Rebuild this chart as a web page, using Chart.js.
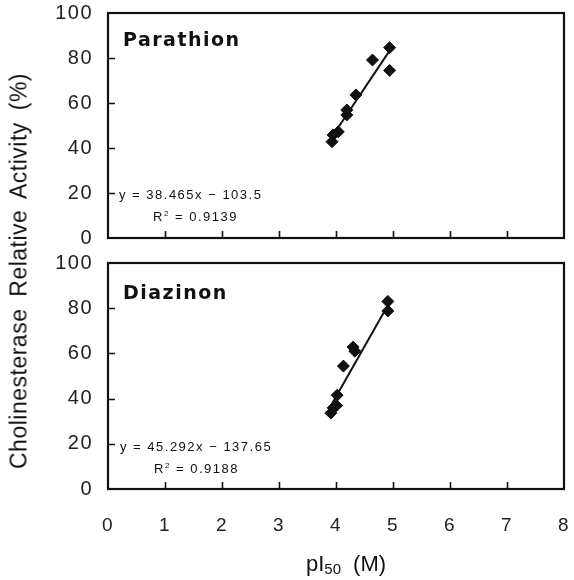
<!DOCTYPE html>
<html>
<head>
<meta charset="utf-8">
<script src="https://cdn.jsdelivr.net/npm/chart.js@4"></script>
<style>
  body { margin: 0; background: #fff; }
  #wrap { position: relative; width: 574px; height: 580px; font-family: "Liberation Sans", Arial, sans-serif; color: #111; }
  .panel { position: absolute; left: 0; }
  .lbl { position: absolute; white-space: nowrap; }
  .name { font-family: "DejaVu Sans", sans-serif; font-weight: bold; font-size: 19px; letter-spacing: 1.5px; }
  .eq { font-size: 13px; letter-spacing: 1.5px; }
  #ytitle { left: 19px; top: 271px; font-size: 23px; letter-spacing: 0.5px; transform: translate(-50%, -50%) rotate(-90deg); word-spacing: 5px; }
  #xtitle { left: 346px; top: 564px; font-size: 22px; transform: translate(-50%, -50%); word-spacing: 6px; }
  #xtitle sub { font-size: 15px; vertical-align: -3px; letter-spacing: 0; }
</style>
</head>
<body>
<div id="wrap">
  <canvas id="top" class="panel" style="top:0" width="574" height="250"></canvas>
  <canvas id="bottom" class="panel" style="top:250px" width="574" height="330"></canvas>

  <div class="lbl name" style="left:123px; top:28px">Parathion</div>
  <div class="lbl eq" style="left:119px; top:187px">y = 38.465x − 103.5</div>
  <div class="lbl eq" style="left:153px; top:209px">R<sup style="font-size:8px">2</sup> = 0.9139</div>

  <div class="lbl name" style="left:123px; top:281px">Diazinon</div>
  <div class="lbl eq" style="left:120px; top:439px">y = 45.292x − 137.65</div>
  <div class="lbl eq" style="left:154px; top:461px">R<sup style="font-size:8px">2</sup> = 0.9188</div>

  <div id="ytitle" class="lbl">Cholinesterase Relative Activity (%)</div>
  <div id="xtitle" class="lbl">pI<sub>50</sub> (M)</div>
</div>
<script>
// Parathion: pI50 vs relative activity
const parathionX = [3.93, 3.95, 4.04, 4.19, 4.19, 4.35, 4.64, 4.94, 4.94];
const parathionY = [42.8, 45.8, 47.2, 56.9, 54.7, 63.6, 79.1, 84.6, 74.5];
const parathionFitX = [3.93, 4.95];
const parathionFitY = [45.0, 83.6];

// Diazinon
const diazinonX = [3.91, 3.95, 4.01, 4.02, 4.13, 4.30, 4.33, 4.91, 4.91];
const diazinonY = [33.6, 35.9, 36.9, 41.5, 54.4, 62.8, 61.0, 83.0, 78.8];
const diazinonFitX = [3.92, 4.92];
const diazinonFitY = [37.3, 81.8];

const xTicks = [0, 1, 2, 3, 4, 5, 6, 7, 8];
const yTicks = [0, 20, 40, 60, 80, 100];

function toPoints(xs, ys) {
    return xs.map((x, i) => ({ x: x, y: ys[i] }));
}

// label overhang would shrink the plot area, so drop it
function noPad(s) {
    s.paddingLeft = 0; s.paddingRight = 0;
    s.paddingTop = 0; s.paddingBottom = 0;
}

// box frame and inward tick marks, plus the spaced-out tick font
const framePlugin = {
    id: 'frame',
    beforeDraw(chart) {
        chart.ctx.letterSpacing = '1.5px';
    },
    afterDraw(chart) {
        const ctx = chart.ctx;
        const a = chart.chartArea;
        const xs = chart.scales.x, ys = chart.scales.y;
        ctx.save();
        ctx.strokeStyle = '#111';
        ctx.lineWidth = 2.2;
        ctx.strokeRect(a.left, a.top, a.right - a.left, a.bottom - a.top);
        ctx.lineWidth = 1.6;
        ctx.beginPath();
        xTicks.slice(1, -1).forEach(v => {
            const px = Math.round(xs.getPixelForValue(v)) + 0.5;
            ctx.moveTo(px, a.bottom);
            ctx.lineTo(px, a.bottom - 7);
        });
        yTicks.slice(1, -1).forEach(v => {
            const py = Math.round(ys.getPixelForValue(v)) + 0.5;
            ctx.moveTo(a.left, py);
            ctx.lineTo(a.left + 7, py);
        });
        ctx.stroke();
        ctx.restore();
    }
};

function makePanel(id, xs, ys, fitX, fitY, showX, xAxisHeight) {
    const ctx = document.getElementById(id).getContext('2d');
    return new Chart(ctx, {
        type: 'scatter',
        data: {
            datasets: [{
                label: 'data',
                data: toPoints(xs, ys),
                pointStyle: 'rectRot',
                pointRadius: 6,
                pointBackgroundColor: '#111',
                pointBorderColor: '#111',
                pointBorderWidth: 1
            }, {
                label: 'fit',
                type: 'line',
                data: toPoints(fitX, fitY),
                borderColor: '#111',
                borderWidth: 2,
                pointRadius: 0,
                fill: false
            }]
        },
        options: {
            responsive: false,
            animation: false,
            layout: { padding: { left: 0, right: 10, top: 13, bottom: 0 } },
            plugins: { legend: { display: false }, tooltip: { enabled: false } },
            scales: {
                x: {
                    type: 'linear', min: 0, max: 8,
                    grid: { display: false, drawTicks: false },
                    border: { display: false },
                    afterBuildTicks: (s) => { s.ticks = xTicks.map(v => ({ value: v })); },
                    afterFit: (s) => { s.height = xAxisHeight; noPad(s); },
                    ticks: {
                        display: showX, padding: 25, color: '#222',
                        maxRotation: 0, autoSkip: false,
                        font: { family: 'Liberation Sans', size: 19 }
                    }
                },
                y: {
                    min: 0, max: 100,
                    grid: { display: false, drawTicks: false },
                    border: { display: false },
                    afterBuildTicks: (s) => { s.ticks = yTicks.map(v => ({ value: v })); },
                    afterFit: (s) => { s.width = 108; noPad(s); },
                    ticks: {
                        padding: 15, color: '#222',
                        font: { family: 'Liberation Sans', size: 20 }
                    }
                }
            }
        },
        plugins: [framePlugin]
    });
}

makePanel('top', parathionX, parathionY, parathionFitX, parathionFitY, false, 12);
makePanel('bottom', diazinonX, diazinonY, diazinonFitX, diazinonFitY, true, 91);
</script>
</body>
</html>
